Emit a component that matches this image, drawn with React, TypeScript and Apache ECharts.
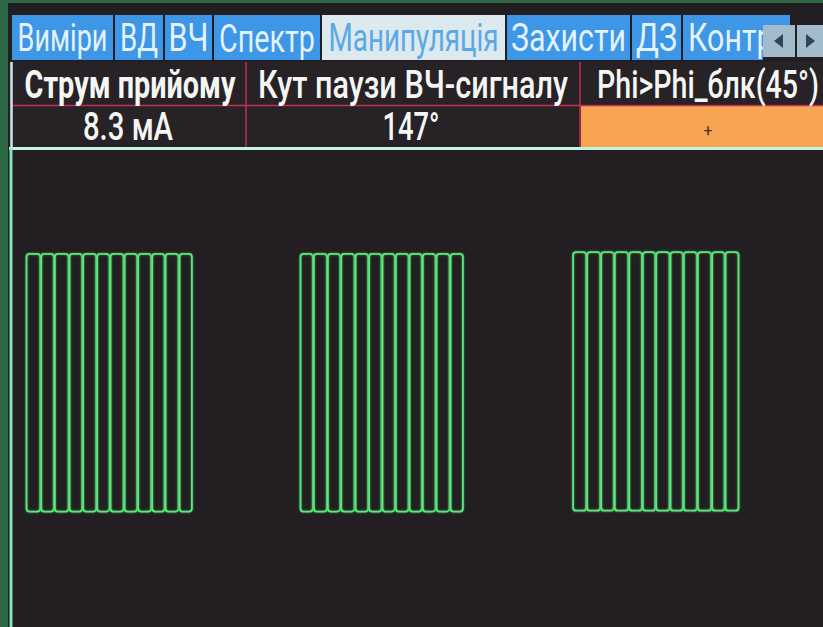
import React, { useEffect, useRef } from "react";
import * as echarts from "echarts";

// ---- data (time in ms, amplitude in % of half-screen) ----
const burst1Edges = [0.89, 1.98, 2.99, 4.08, 5.09, 6.13, 7.12, 8.16, 9.17, 10.21, 11.2, 12.24, 13.23];
const burst2Edges = [21.21, 22.2, 23.24, 24.23, 25.29, 26.3, 27.29, 28.28, 29.3, 30.28, 31.3, 32.34, 33.33];
const burst3Edges = [41.43, 42.47, 43.51, 44.52, 45.59, 46.6, 47.59, 48.65, 49.64, 50.68, 51.74, 52.73, 53.77];
const burstHigh = [55.4, 55.4, 56.2];
const burstLow = [-55.2, -55.2, -54.8];
const baseline = [[0, 0], [60, 0]];

const tabLabels = ["Виміри", "ВД", "ВЧ", "Спектр", "Манипуляція", "Захисти", "ДЗ", "Контроль"];
const selectedTab = 4;
const headerLabels = ["Струм прийому", "Кут паузи ВЧ-сигналу", "Phi>Phi_блк(45°)"];
const valueLabels = ["8.3 мА", "147°", "+"];

export default function App() {
  const ref = useRef<HTMLDivElement>(null);
  useEffect(() => {
    if (!ref.current) return;
    const chart = echarts.init(ref.current, null, { renderer: "svg" });

    const bursts = [burst1Edges, burst2Edges, burst3Edges];
    const rectData: number[][] = [];
    bursts.forEach((edges, b) => {
      for (let i = 0; i < edges.length - 1; i++) {
        rectData.push([edges[i], edges[i + 1], burstLow[b], burstHigh[b]]);
      }
    });

    const family = 'Roboto, "DejaVu Sans", sans-serif';
    const cvs = document.createElement("canvas");
    const ctx = cvs.getContext("2d")!;
    const fit = (text: string, font: string, target: number) => {
      ctx.font = font;
      const w = ctx.measureText(text).width || 1;
      return target / w;
    };

    const tabEdges = [[12, 113], [115, 163], [165, 212], [214, 320], [322, 505], [507, 630], [632, 681], [683, 790]];
    const tabTextW = [90, 38, 40, 96, 170, 115, 41, 0];
    const tabFont = `39px ${family}`;
    const graphic: any[] = [];
    graphic.push({ type: "rect", z: 0, shape: { x: 8, y: 3, width: 815, height: 624 }, style: { fill: "#221e21" } });
    const tabScales = tabLabels.map((t, i) => (tabTextW[i] ? fit(t, tabFont, tabTextW[i]) : 0));
    tabScales[7] = tabScales[5];
    tabLabels.forEach((t, i) => {
      const [a, b] = tabEdges[i];
      const sel = i === selectedTab;
      graphic.push({ type: "rect", z: 1, shape: { x: a, y: 15, width: b - a, height: 45 }, style: { fill: sel ? "#dce9ee" : "#3d96e6" } });
      graphic.push({
        type: "text", z: 2,
        x: i === 7 ? a + 5 : (a + b) / 2, y: 38, scaleX: tabScales[i],
        style: { text: t, font: tabFont, fill: sel ? "#5aa8e4" : "#e4f2ff", align: i === 7 ? "left" : "center", verticalAlign: "middle" },
      });
    });
    // arrow buttons
    graphic.push({ type: "rect", z: 3, shape: { x: 763, y: 12, width: 60, height: 48 }, style: { fill: "#221e21" } });
    graphic.push({ type: "rect", z: 3, shape: { x: 763, y: 15, width: 27, height: 10 }, style: { fill: "#3d96e6" } });
    graphic.push({ type: "rect", z: 4, shape: { x: 763, y: 25, width: 32, height: 32 }, style: { fill: "#a3bccb" } });
    graphic.push({ type: "rect", z: 4, shape: { x: 797, y: 25, width: 26, height: 32 }, style: { fill: "#a3bccb" } });
    graphic.push({ type: "polygon", z: 5, shape: { points: [[774, 41], [783, 34], [783, 48]] }, style: { fill: "#2d4556" } });
    graphic.push({ type: "polygon", z: 5, shape: { points: [[815, 41], [806, 34], [806, 48]] }, style: { fill: "#2d4556" } });

    // table
    graphic.push({ type: "rect", z: 1, shape: { x: 12, y: 62, width: 811, height: 86 }, style: { fill: "#272226" } });
    graphic.push({ type: "rect", z: 2, shape: { x: 581, y: 106, width: 242, height: 41 }, style: { fill: "#f7a453" } });
    graphic.push({ type: "line", z: 3, shape: { x1: 12, y1: 105.5, x2: 823, y2: 105.5 }, style: { stroke: "#c1304f", lineWidth: 1.5 } });
    graphic.push({ type: "line", z: 3, shape: { x1: 246, y1: 62, x2: 246, y2: 147 }, style: { stroke: "#c1304f", lineWidth: 1.5 } });
    graphic.push({ type: "line", z: 3, shape: { x1: 580, y1: 62, x2: 580, y2: 147 }, style: { stroke: "#c1304f", lineWidth: 1.5 } });
    graphic.push({ type: "line", z: 3, shape: { x1: 11.5, y1: 62, x2: 11.5, y2: 150 }, style: { stroke: "#cfe6ee", lineWidth: 2.5 } });
    graphic.push({ type: "line", z: 3, shape: { x1: 9, y1: 148.5, x2: 823, y2: 148.5 }, style: { stroke: "#c4f3df", lineWidth: 3 } });
    graphic.push({ type: "line", z: 3, shape: { x1: 11, y1: 148, x2: 11, y2: 627 }, style: { stroke: "#7fe6c3", lineWidth: 3 } });

    const colCenters = [130, 413, 708];
    const headerW = [211, 310, 222];
    headerLabels.forEach((t, i) => {
      const f = `${i === 0 ? "bold" : "500"} 38px ${family}`;
      graphic.push({
        type: "text", z: 4, x: colCenters[i], y: 85, scaleX: fit(t, f, headerW[i]),
        style: { text: t, font: f, fill: "#f4f6f4", align: "center", verticalAlign: "middle" },
      });
    });
    const valueW = [90, 57, 0];
    valueLabels.forEach((t, i) => {
      const f = i === 2 ? `16px ${family}` : `500 38px ${family}`;
      graphic.push({
        type: "text", z: 4, x: i === 2 ? 708 : [128, 411][i], y: i === 2 ? 130 : 127,
        scaleX: i === 2 ? 1 : fit(t, f, valueW[i]),
        style: { text: t, font: f, fill: i === 2 ? "#4a3020" : "#f4f6f4", align: "center", verticalAlign: "middle" },
      });
    });

    chart.setOption({
      animation: false,
      backgroundColor: "#2c6846",
      graphic,
      grid: { left: 14, top: 150, width: 809, height: 466 },
      xAxis: { type: "value", min: 0, max: 60, show: false },
      yAxis: { type: "value", min: -100, max: 100, show: false },
      series: [
        {
          type: "custom",
          z: 10,
          data: rectData,
          renderItem: (params: any, api: any) => {
            const p0 = api.coord([api.value(0), api.value(3)]);
            const p1 = api.coord([api.value(1), api.value(2)]);
            return {
              type: "rect",
              shape: { x: p0[0] + 0.5, y: p0[1], width: p1[0] - p0[0] - 1.0, height: p1[1] - p0[1], r: 3 },
              style: { fill: "none", stroke: "#62e47f", lineWidth: 1.8, shadowBlur: 2, shadowColor: "#2f9a4c" },
            };
          },
        },
        {
          type: "line",
          z: 11,
          data: baseline,
          symbol: "none",
          lineStyle: { color: "#8ff2cb", width: 2.5, shadowBlur: 3, shadowColor: "#3fc08d" },
        },
      ],
    });
    return () => chart.dispose();
  }, []);
  return <div ref={ref} style={{ position: "fixed", left: 0, top: 0, width: 823, height: 627 }} />;
}
